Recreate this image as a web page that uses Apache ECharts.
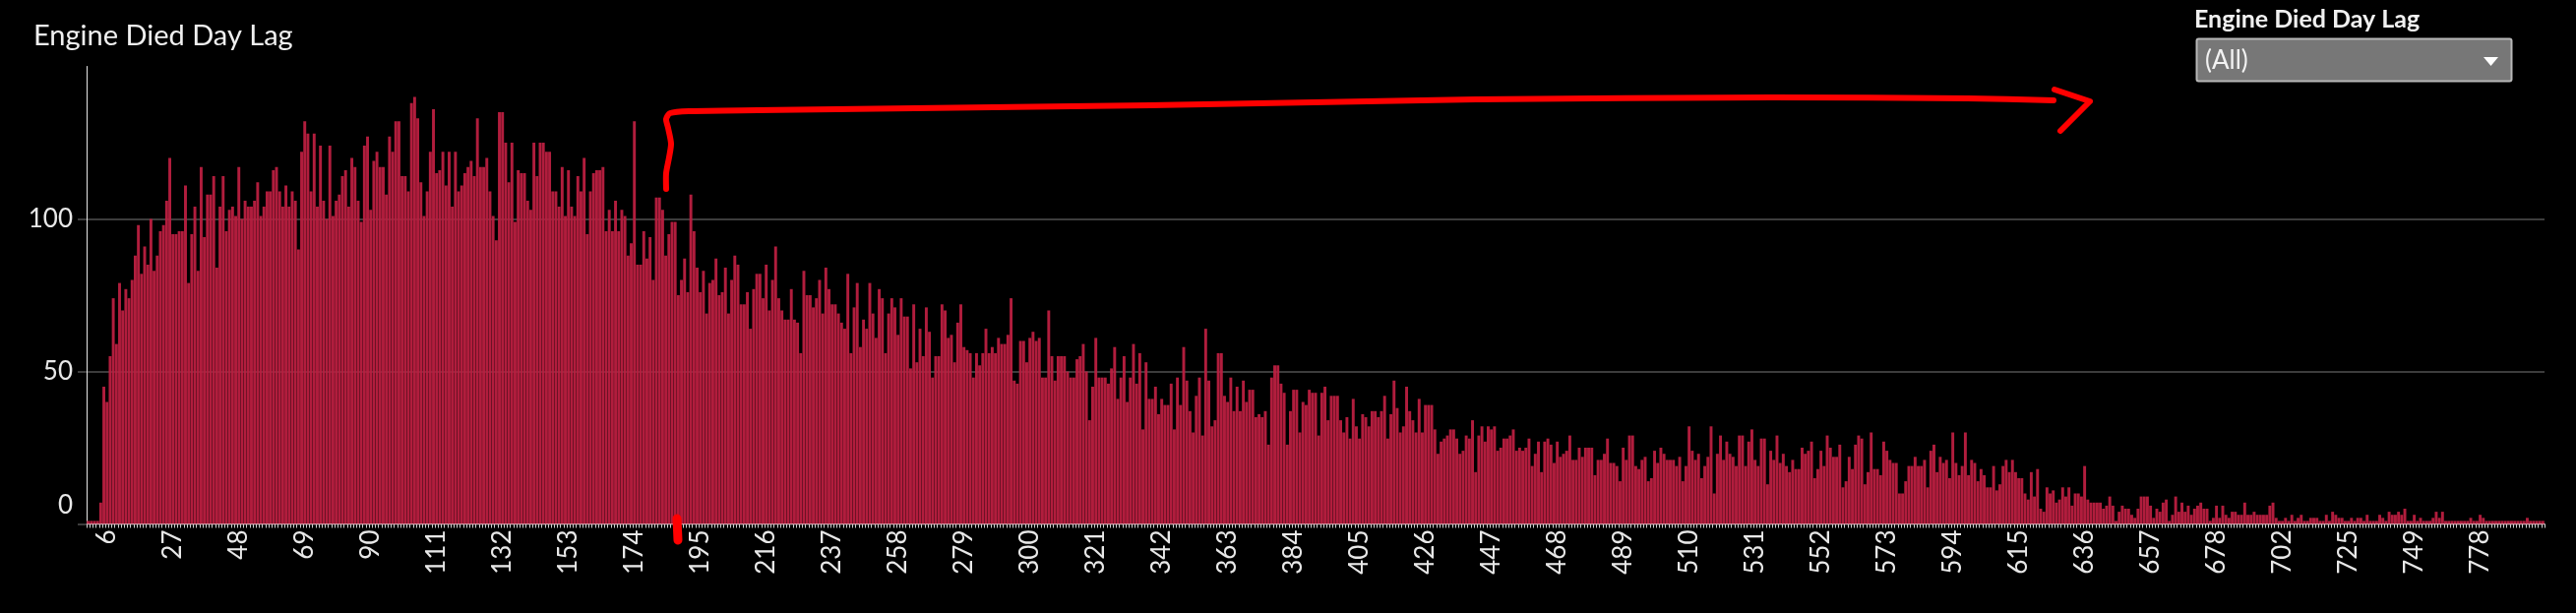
<!DOCTYPE html>
<html>
<head>
<meta charset="utf-8">
<script src="https://cdn.jsdelivr.net/npm/echarts@6.0.0/dist/echarts.min.js"></script>
<style>
html,body{margin:0;padding:0;background:#000;}
#chart{width:2618px;height:623px;}
</style>
</head>
<body>
<div id="chart"></div>
<script>
// ---- Text ----
const TITLE = 'Engine Died Day Lag';
const FILTER_LABEL = 'Engine Died Day Lag';
const FILTER_VALUE = '(All)';

// ---- Categories (Engine Died Day Lag, days) ----
const CONSECUTIVE_DAYS_END = 678;   // days 0..678 are all present
const TAIL_DAYS = [
  679,680,681,682,683,685,686,687,688,689,690,691,693,694,695,696,697,698,700,701,
  702,
  703,704,705,706,707,708,709,711,712,713,714,715,716,717,718,719,720,722,723,724,
  725,
  726,727,728,729,730,732,733,734,735,736,737,738,740,741,742,743,744,745,747,748,
  749,
  750,751,752,754,755,756,758,759,761,762,764,765,767,768,770,771,773,774,776,777,
  778,
  779,780,782,783,785,786,788,790,791,793,795,796,798,800,801,803,806,808,811,815
];

// ---- Y axis ticks ----
const Y_TICKS = [0, 50, 100];

// ---- Counts per day lag ----
const COUNTS_0_103 = [
  1,1,1,1,7,45,40,55,74,59,
  79,70,77,74,80,88,98,82,91,85,
  100,83,88,96,98,106,120,95,95,96,
  96,111,79,95,104,83,117,94,108,108,
  114,84,104,114,96,103,104,101,117,100,
  106,104,104,106,112,101,104,109,109,116,
  117,109,104,111,104,109,106,90,122,132,
  128,109,128,104,124,106,100,124,101,106,
  108,114,116,104,120,117,106,99,124,127,
  103,119,122,117,117,108,127,122,132,132,
  114,114,109,138
];
const COUNTS_104_213 = [
  140,133,112,101,109,122,136,115,116,122,
  111,122,104,122,109,111,115,117,119,114,
  133,117,117,120,109,101,93,135,135,125,
  112,125,99,116,115,115,106,103,125,114,
  125,125,122,122,109,109,104,117,101,116,
  104,101,114,109,120,95,109,115,116,116,
  117,96,103,96,106,96,103,101,88,92,
  132,85,85,96,87,94,80,107,107,103,
  88,95,99,99,75,80,87,76,108,96,
  84,76,83,69,79,80,87,75,76,84,
  69,80,88,85,72,72,76,64,77,82
];
const COUNTS_214_323 = [
  82,74,85,70,80,91,74,70,67,67,
  77,67,66,56,83,75,75,71,74,80,
  69,84,77,72,72,69,66,64,82,56,
  71,79,58,67,64,79,69,61,77,74,
  56,69,74,71,62,74,68,68,51,72,
  53,64,55,71,63,48,55,55,72,70,
  61,62,53,66,72,58,57,56,48,56,
  52,56,64,56,58,56,61,59,59,62,
  74,47,46,60,60,53,61,63,60,61,
  48,48,70,55,47,55,55,55,50,48,
  48,54,55,59,50,34,45,61,48,48
];
const COUNTS_324_433 = [
  48,46,51,58,41,48,55,40,48,59,
  46,56,31,53,41,41,45,36,41,39,
  39,46,31,48,39,58,47,37,30,42,
  48,29,64,47,32,34,56,56,42,40,
  48,37,45,37,47,40,44,44,35,36,
  35,37,26,48,52,52,46,43,26,37,
  44,44,30,40,39,44,43,43,29,43,
  45,34,42,42,42,34,30,35,28,41,
  32,28,36,35,32,37,37,35,37,42,
  28,36,47,38,30,32,45,37,34,30,
  41,30,39,39,39,31,23,27,28,29
];
const COUNTS_434_542 = [
  31,
  31,28,23,24,29,28,34,17,29,32,27,32,31,32,24,25,28,28,
  29,31,24,25,24,25,28,19,23,27,17,27,28,26,20,27,22,23,24,29,21,21,25,22,25,25,25,
  16,21,21,23,28,20,20,19,14,25,21,29,29,
  19,18,21,22,14,15,24,20,25,23,21,21,21,
  19,22,14,19,32,24,21,23,15,19,22,32,10,23,29,21,27,23,22,19,29,29,
  19,27,31,21,19,28,28,13,24,21,29,20,23,19,17
];
const COUNTS_543_594 = [
  21,18,18,25,23,24,27,15,18,24,19,29,25,22,22,26,12,14,22,18,26,29,28,13,17,30,
  18,18,16,27,24,21,20,20,10,10,14,19,19,22,19,19,21,12,24,26,17,22,20,21,15,30
];
const COUNTS_595_644 = [
  20,16,19,30,16,21,20,14,18,16,
  12,12,19,11,13,19,21,17,21,17,
  15,15,10,8,17,9,18,5,4,12,
  10,11,7,8,12,9,12,6,10,10,
  9,19,8,7,7,7,7,5,6,9
];
const COUNTS_645_696 = [
  6,1,4,6,5,5,3,2,5,9,
  9,9,6,2,5,4,7,8,1,3,
  9,4,7,4,6,3,5,6,7,5,
  5,1,2,6,2,6,3,2,4,4,
  3,3,7,3,3,4,3,3,3,3,
  6,7
];
const COUNTS_TAIL = [
  2,1,1,2,1,3,1,2,3,1,
  1,2,2,2,1,1,3,1,4,3,
  2,2,1,1,2,1,2,2,1,3,
  1,1,1,3,2,1,4,3,3,4,
  3,5,1,1,3,1,2,1,1,1,
  2,4,2,4,1,1,1,1,1,1,1,1,
  2,1,1,3,2,
  1,1,1,1,1,1,1,1,1,1,1,1,1,
  2,
  1,1,1,1,1
];

// ---- Build table for the library ----
const categories = [];
for (let d = 0; d <= CONSECUTIVE_DAYS_END; d++) categories.push(String(d));
TAIL_DAYS.forEach(d => categories.push(String(d)));
const counts = [].concat(COUNTS_0_103, COUNTS_104_213, COUNTS_214_323, COUNTS_324_433,
  COUNTS_434_542, COUNTS_543_594, COUNTS_595_644, COUNTS_645_696, COUNTS_TAIL);

const FONT = 'Lato, "Noto Sans", sans-serif';
const chart = echarts.init(document.getElementById('chart'), null, {renderer: 'canvas'});
chart.setOption({
  backgroundColor: '#000000',
  animation: false,
  title: {
    text: TITLE, left: 29, top: 17,
    textStyle: {color: '#f0f0f0', fontSize: 29, fontWeight: 'normal', fontFamily: FONT}
  },
  grid: {left: 88, right: 32, top: 67.5, bottom: 90.5, containLabel: false},
  xAxis: {
    type: 'category',
    data: categories,
    boundaryGap: true,
    axisLine: {show: true, lineStyle: {color: '#e6e6e6', width: 1}},
    axisTick: {show: true, interval: 0, length: 4, lineStyle: {color: '#cfcfcf', width: 1}},
    axisLabel: {
      interval: function (index) { return index >= 6 && (index - 6) % 21 === 0; },
      rotate: 90, margin: 6, color: '#e8e8e8', fontSize: 26, fontFamily: FONT
    },
    splitLine: {show: false}
  },
  yAxis: {
    type: 'value', min: 0, max: 150, interval: 50,
    axisLine: {show: true, lineStyle: {color: '#e6e6e6', width: 1}},
    axisTick: {show: true, length: 9, customValues: Y_TICKS, lineStyle: {color: '#505050', width: 1.5}},
    axisLabel: {
      customValues: Y_TICKS,
      color: '#e8e8e8', fontSize: 26, fontFamily: FONT, margin: 14,
      formatter: function (v) { return v === 0 ? '{z|0}' : String(v); },
      rich: {z: {color: '#e8e8e8', fontSize: 26, fontFamily: FONT, padding: [0, 0, 38, 0]}}
    },
    splitLine: {show: true, lineStyle: {color: ['#505050', '#505050', '#505050', 'rgba(0,0,0,0)'], width: 1.5}}
  },
  series: [{
    type: 'bar',
    data: counts,
    barCategoryGap: '8%',
    itemStyle: {color: '#bb1f40', opacity: 0.95},
    emphasis: {disabled: true}
  }],
  graphic: [
    {type: 'text', x: 2230, y: 20, z: 10,
     style: {text: FILTER_LABEL, fill: '#f0f0f0', font: 'bold 25px ' + FONT, verticalAlign: 'middle'}},
    {type: 'rect', z: 10, shape: {x: 2232.5, y: 39.5, width: 320, height: 43, r: 2},
     style: {fill: '#777777', stroke: '#b8b8b8', lineWidth: 2}},
    {type: 'text', x: 2241, y: 62, z: 11,
     style: {text: FILTER_VALUE, fill: '#f2f2f2', font: '26px ' + FONT, verticalAlign: 'middle'}},
    {type: 'polygon', z: 11, shape: {points: [[2524, 58], [2539, 58], [2531.5, 67]]}, style: {fill: '#ffffff'}},
    {type: 'polyline', z: 20,
     shape: {points: [[677, 192], [677, 176], [680, 160], [682, 146], [679, 130], [677, 121], [681, 115],
                      [700, 113], [770, 112], [1169, 107], [1500, 101], [1800, 99], [2000, 100], [2087, 102]],
             smooth: 0.25},
     style: {stroke: '#ff0000', lineWidth: 6, fill: null, lineCap: 'round', lineJoin: 'round'}},
    {type: 'polyline', z: 20,
     shape: {points: [[2088, 91], [2124, 103], [2094, 133]]},
     style: {stroke: '#ff0000', lineWidth: 6, fill: null, lineCap: 'round', lineJoin: 'round'}},
    {type: 'line', z: 20, shape: {x1: 688, y1: 527, x2: 689, y2: 549},
     style: {stroke: '#ff0000', lineWidth: 9, lineCap: 'round'}}
  ]
});
</script>
</body>
</html>
